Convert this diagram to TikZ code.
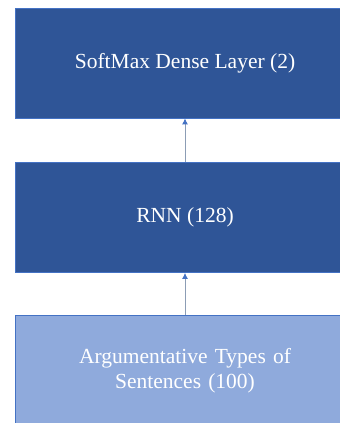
\documentclass[tikz,border=0pt]{standalone}
\usepackage{fontspec}
\setmainfont{Liberation Serif}
\usepackage{xcolor}
\usetikzlibrary{arrows.meta}

\definecolor{darkblue}{HTML}{2F5597}
\definecolor{lightblue}{HTML}{8FAADC}
\definecolor{edgeblue}{HTML}{4472C4}
\definecolor{linegray}{HTML}{8C9DB5}

\begin{document}
\begin{tikzpicture}[
        x=1pt, y=-1pt,
        >={Latex[length=6pt,width=6pt]},
        layer/.style={rectangle,draw=edgeblue,line width=0.8pt,fill=darkblue,
          minimum width=340pt,minimum height=110pt,inner sep=0pt,
          text=white,font=\fontsize{21.5}{25}\selectfont},
        inlayer/.style={layer,fill=lightblue,minimum height=111pt,
          align=center,text width=240pt},
        feed/.style={->,draw=linegray,line width=0.9pt,
          arrows={-Latex[length=6pt,width=6pt,color=edgeblue]}}
      ]
        \useasboundingbox (0,0) rectangle (340,423);
        \clip (0,0) rectangle (340,423);
        \node[layer]   (dense) at (185,63)    {SoftMax Dense Layer (2)};
        \node[layer]   (rnn)   at (185,217.5) {RNN (128)};
        \node[inlayer] (input) at (185,370.5) {Argumentative Types of\\Sentences (100)};
        \draw[feed] (input) -- (rnn);
        \draw[feed] (rnn) -- (dense);
      \end{tikzpicture}
\end{document}
